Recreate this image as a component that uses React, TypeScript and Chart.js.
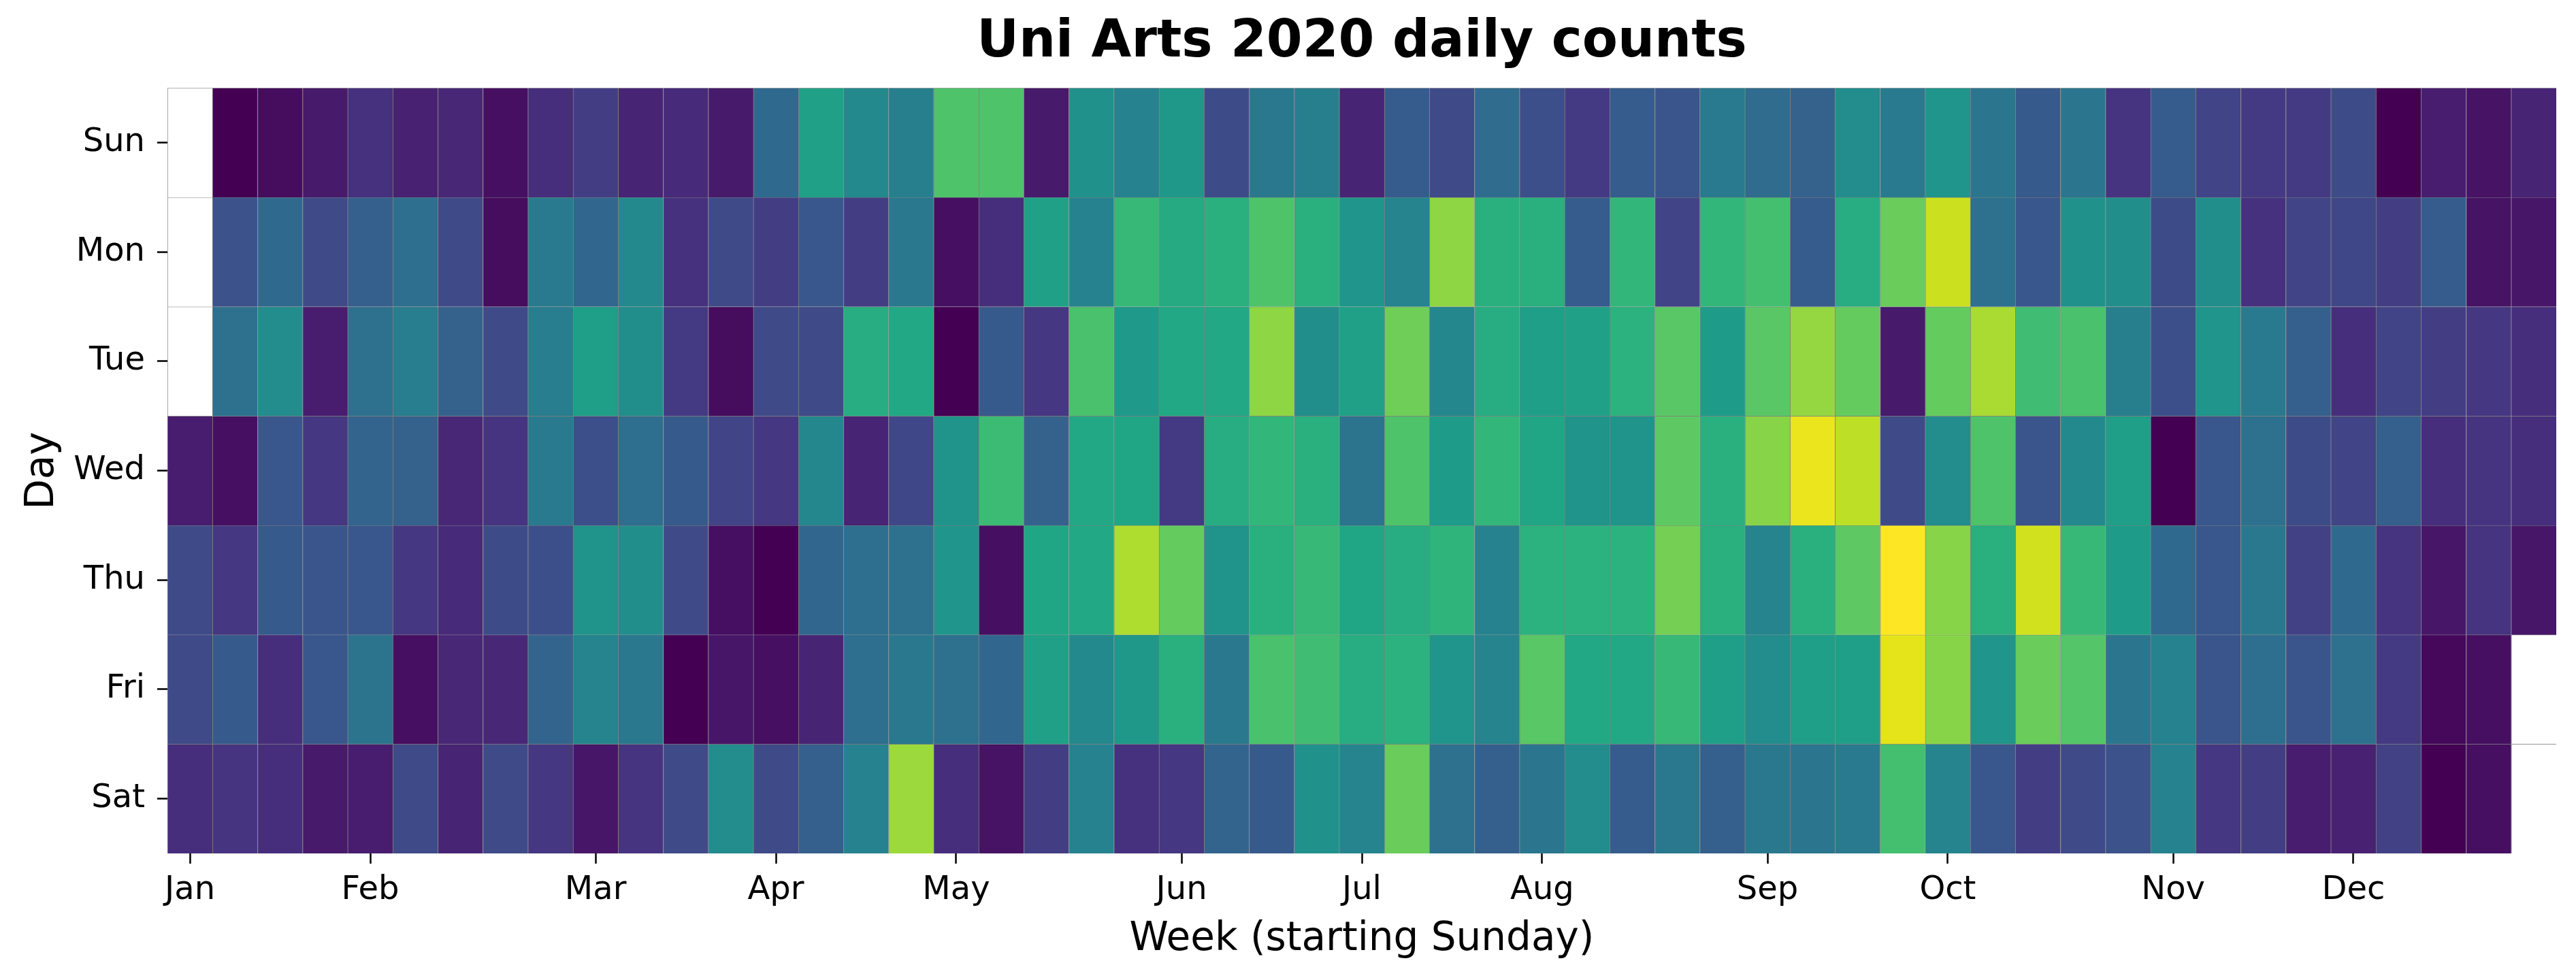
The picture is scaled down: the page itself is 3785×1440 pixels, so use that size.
import React, { useEffect, useRef } from 'react';
import { Chart, registerables } from 'chart.js';

Chart.register(...registerables);

const TITLE = 'Uni Arts 2020 daily counts';
const X_TITLE = 'Week (starting Sunday)';
const Y_TITLE = 'Day';

const DAYS = ['Sun', 'Mon', 'Tue', 'Wed', 'Thu', 'Fri', 'Sat'];

// week index (starting Sunday) of the week that holds the 1st of each month
const MONTH_TICK_WEEKS = [0, 4, 9, 13, 17, 22, 26, 30, 35, 39, 44, 48];
const MONTH_LABELS = ['Jan', 'Feb', 'Mar', 'Apr', 'May', 'Jun', 'Jul', 'Aug', 'Sep', 'Oct', 'Nov', 'Dec'];

const WEEK_LABELS = [
  '0', '1', '2', '3', '4', '5', '6', '7', '8', '9', '10', '11', '12', '13', '14', '15', '16', '17',
  '18', '19', '20', '21', '22', '23', '24', '25', '26', '27', '28', '29', '30', '31', '32', '33', '34',
  '35', '36', '37', '38', '39', '40', '41', '42', '43', '44', '45', '46', '47', '48', '49', '50', '51', '52',
];

// daily counts per weekday row, one value per week (null = day outside 2020)
const SUN = [null, 0, 3, 7, 14, 9, 11, 4, 13, 18, 10, 12, 7, 34, 57, 47, 43, 72, 72, 7, 50, 44, 53, 23, 40, 43, 10, 29, 22, 35, 24, 17, 29, 26, 41, 35, 31, 48, 41, 52, 39, 28, 39, 15, 29, 20, 17, 17, 23, 0, 8, 5, 10];
const MON = [null, 25, 34, 22, 30, 36, 22, 3, 41, 33, 47, 14, 22, 18, 27, 18, 40, 4, 13, 57, 44, 67, 61, 63, 72, 63, 52, 45, 83, 63, 63, 29, 66, 20, 66, 70, 29, 62, 77, 92, 37, 27, 50, 49, 23, 49, 14, 20, 21, 18, 29, 5, 6];
const TUE = [null, 37, 48, 8, 37, 42, 31, 22, 42, 56, 49, 17, 3, 22, 22, 62, 60, 0, 28, 16, 71, 54, 60, 60, 83, 49, 57, 78, 46, 62, 56, 57, 64, 74, 55, 74, 84, 76, 7, 76, 87, 69, 71, 43, 24, 52, 41, 30, 13, 20, 18, 16, 13];
const WED = [8, 4, 27, 16, 32, 31, 11, 15, 41, 24, 36, 28, 20, 16, 46, 10, 21, 51, 68, 31, 60, 59, 17, 62, 66, 63, 38, 72, 55, 66, 59, 51, 51, 75, 63, 82, 97, 90, 22, 48, 72, 26, 47, 56, 0, 27, 37, 23, 20, 30, 13, 15, 13];
const THU = [22, 16, 28, 26, 27, 16, 12, 23, 24, 51, 49, 22, 4, 0, 33, 36, 37, 52, 4, 59, 60, 88, 76, 51, 63, 67, 59, 62, 65, 44, 64, 64, 64, 79, 63, 45, 63, 75, 100, 82, 63, 93, 67, 55, 34, 27, 40, 19, 34, 15, 6, 15, 6];
const FRI = [22, 28, 13, 27, 38, 4, 11, 11, 32, 45, 40, 0, 6, 4, 10, 36, 40, 37, 33, 57, 47, 53, 63, 40, 71, 69, 62, 64, 52, 45, 74, 60, 60, 67, 56, 48, 56, 56, 96, 82, 52, 77, 73, 39, 44, 26, 36, 26, 37, 17, 2, 4, null];
const SAT = [13, 15, 13, 7, 8, 22, 10, 22, 16, 6, 15, 22, 48, 22, 30, 44, 85, 13, 5, 18, 44, 14, 16, 32, 28, 50, 45, 77, 37, 30, 39, 48, 29, 40, 30, 40, 39, 41, 70, 45, 27, 18, 22, 25, 44, 16, 18, 8, 9, 19, 0, 4, null];

const ROWS: (number | null)[][] = [SUN, MON, TUE, WED, THU, FRI, SAT];

const VIRIDIS: number[][] = [
  [68, 1, 84], [71, 19, 101], [72, 36, 117], [70, 52, 128], [65, 68, 135], [59, 82, 139],
  [53, 95, 141], [47, 108, 142], [42, 120, 142], [37, 132, 142], [33, 145, 140], [30, 156, 137],
  [34, 168, 132], [47, 180, 124], [68, 191, 112], [94, 201, 98], [122, 209, 81], [155, 217, 60],
  [189, 223, 38], [223, 227, 24], [253, 231, 37],
];

function viridis(t: number): string {
  const c = Math.max(0, Math.min(1, t));
  const p = c * (VIRIDIS.length - 1);
  const i = Math.min(Math.floor(p), VIRIDIS.length - 2);
  const f = p - i;
  const a = VIRIDIS[i];
  const b = VIRIDIS[i + 1];
  const r = Math.round(a[0] + (b[0] - a[0]) * f);
  const g = Math.round(a[1] + (b[1] - a[1]) * f);
  const bl = Math.round(a[2] + (b[2] - a[2]) * f);
  return `rgb(${r},${g},${bl})`;
}

export default function App() {
  const ref = useRef<HTMLCanvasElement | null>(null);

  useEffect(() => {
    document.body.style.margin = '0';
    const canvas = ref.current;
    if (!canvas) return;

    Chart.defaults.font.family = "'DejaVu Sans', sans-serif";
    Chart.defaults.color = '#000';

    const all = ROWS.flat().filter((v) => v !== null) as number[];
    const vmin = Math.min(...all);
    const vmax = Math.max(...all);

    const datasets = ROWS.map((vals, j) => ({
      label: DAYS[j],
      data: vals.map(() => [j, j + 1]),
      backgroundColor: vals.map((v) => (v === null ? '#ffffff' : viridis((v - vmin) / (vmax - vmin)))),
      borderColor: '#808080',
      borderWidth: { top: 1, left: 1, right: 0, bottom: 0 },
      borderSkipped: false,
      grouped: false,
      categoryPercentage: 1,
      barPercentage: 1,
    }));

    const chart = new Chart(canvas, {
      type: 'bar',
      data: { labels: WEEK_LABELS, datasets: datasets as any },
      options: {
        animation: false,
        responsive: false,
        devicePixelRatio: 1,
        layout: { padding: { left: 0, right: 29, top: 0, bottom: 0 } },
        plugins: {
          legend: { display: false },
          tooltip: { enabled: false },
          title: {
            display: true,
            text: TITLE,
            fullSize: false,
            color: '#000',
            font: { size: 76, weight: 'bold', lineHeight: 1.2 },
            padding: { top: 18, bottom: 20 },
          },
        },
        scales: {
          x: {
            type: 'category',
            offset: true,
            grid: {
              display: true,
              offset: false,
              drawOnChartArea: false,
              drawTicks: true,
              tickLength: 15,
              tickWidth: 2.5,
              tickColor: '#000',
            },
            border: { display: false },
            ticks: {
              autoSkip: false,
              maxRotation: 0,
              minRotation: 0,
              padding: 11,
              color: '#000',
              font: { size: 48 },
              callback: (v: any) => {
                const k = MONTH_TICK_WEEKS.indexOf(Number(v));
                return k >= 0 ? MONTH_LABELS[k] : '';
              },
            },
            afterBuildTicks: (axis: any) => {
              axis.ticks = MONTH_TICK_WEEKS.map((w) => ({ value: w }));
            },
            afterFit: (axis: any) => {
              axis.height = 186;
            },
            title: {
              display: true,
              text: X_TITLE,
              color: '#000',
              font: { size: 58, lineHeight: 1.2 },
              padding: { top: 0, bottom: 24 },
            },
          },
          y: {
            type: 'linear',
            min: 0,
            max: 7,
            reverse: true,
            grid: {
              display: true,
              drawOnChartArea: false,
              drawTicks: true,
              tickLength: 15,
              tickWidth: 2.5,
              tickColor: '#000',
            },
            border: { display: false },
            ticks: {
              padding: 18,
              color: '#000',
              font: { size: 48 },
              callback: (v: any) => DAYS[Math.floor(Number(v))] ?? '',
            },
            afterBuildTicks: (axis: any) => {
              axis.ticks = DAYS.map((_, j) => ({ value: j + 0.5 }));
            },
            afterFit: (axis: any) => {
              axis.width = 246;
            },
            title: {
              display: true,
              text: Y_TITLE,
              color: '#000',
              font: { size: 58, lineHeight: 1.2 },
              padding: { top: 28, bottom: 0 },
            },
          },
        },
      } as any,
    });

    return () => {
      chart.destroy();
    };
  }, []);

  return (
    <div style={{ width: 3785, height: 1440, background: '#fff' }}>
      <canvas ref={ref} width={3785} height={1440} style={{ display: 'block', width: 3785, height: 1440 }} />
    </div>
  );
}
